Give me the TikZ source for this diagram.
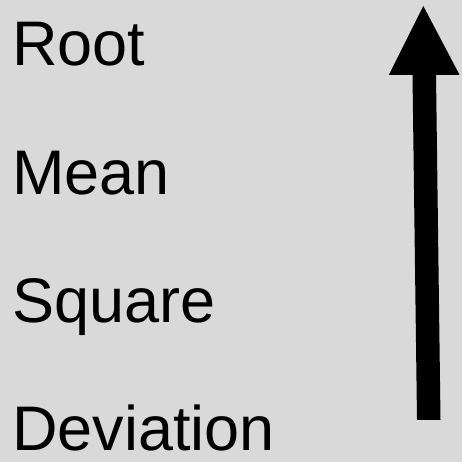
\documentclass[tikz,border=0pt]{standalone}
\usepackage{fontspec}
\setmainfont{Liberation Sans}
\usepackage{xcolor}
\definecolor{panelbg}{HTML}{D9D9D9}
\usepackage{tikz}
\usetikzlibrary{positioning, calc}

\begin{document}
\begin{tikzpicture}[x=1pt, y=1pt,
    word/.style={anchor=base west, inner sep=0pt, font=\fontsize{63}{63}\selectfont, text=black}]
      % Background
      \fill[panelbg] (0,0) rectangle (462,462);
      \useasboundingbox (0,0) rectangle (462,462);

      % Nodes
      \node[word] (root) at (12,396.3) {Root};
      \node[word] (mean) at (12,267.9) {Mean};
      \node[word] (square) at (12,139.5) {Square};
      \node[word] (deviation) at (12,11.1) {Deviation};

      % Arrow
      \fill[black] (417,42) -- (440.5,42) -- (436,387) -- (459.6,387) -- (423.3,456)
        -- (388.8,387) -- (412.5,387) -- cycle;
    \end{tikzpicture}
\end{document}
